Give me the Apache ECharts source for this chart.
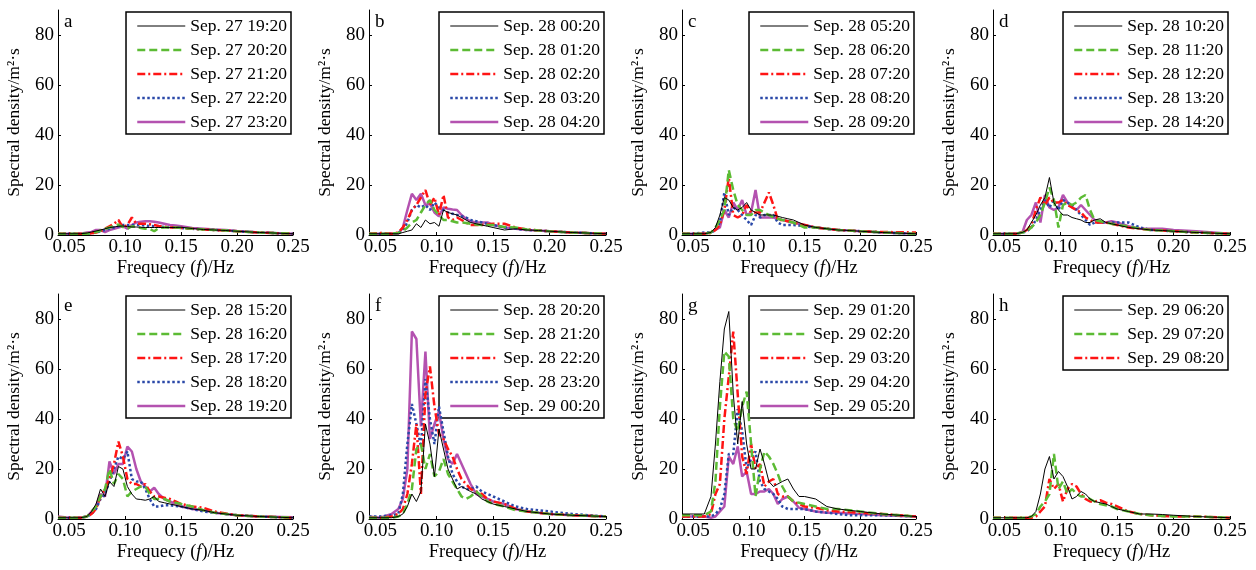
<!DOCTYPE html>
<html>
<head>
<meta charset="utf-8">
<script src="https://cdn.jsdelivr.net/npm/echarts@6/dist/echarts.min.js"></script>
<style>html,body{margin:0;padding:0;background:#fff}#c{width:1256px;height:570px}</style>
</head>
<body>
<div id="c"></div>
<script>
// Frequency grid (Hz)
const freq = [0.04,0.05,0.06,0.066,0.07,0.074,0.078,0.082,0.086,0.09,0.094,0.098,0.102,0.106,0.11,0.114,0.118,0.122,0.126,0.13,0.135,0.14,0.145,0.15,0.16,0.17,0.18,0.19,0.2,0.22,0.25];
const xTicks = [0.05,0.10,0.15,0.20,0.25];
const yTicks = [0,20,40,60,80];
const panelLetters = ['a','b','c','d','e','f','g','h'];

const namesA = ['Sep. 27 19:20','Sep. 27 20:20','Sep. 27 21:20','Sep. 27 22:20','Sep. 27 23:20'];
const dataA = [
  [0.5,0.5,0.5,0.8,1.2,1.6,2,2.5,3,3.2,3.5,3.6,3.4,3.2,3.2,3.1,3,3,3,3,3,3,3,3.1,2.6,2.2,2,1.8,1.5,1,0.5],
  [0.5,0.5,0.5,0.5,0.8,1.2,1.8,2.5,3,3.5,4.2,3.2,2.5,3.5,3.2,2.8,2.5,2.4,1.5,2.8,3,3,3,2.8,2.5,2.2,2,1.8,1.5,1,0.5],
  [0.5,0.5,0.5,0.5,0.7,1,1.5,2.5,3.5,4.5,6,3,4,7,4.5,4.5,4.5,4.3,4,3.6,3.3,3,3,2.8,2.5,2.2,2,1.8,1.5,1,0.5],
  [0.5,0.5,0.5,0.5,0.7,1,1.5,2,2.5,3,3.5,4,4,4,4,4,3.8,3.6,3.5,3.4,3.2,3,3,2.8,2.5,2.2,2,1.8,1.5,1,0.5],
  [0.5,0.5,0.5,1,1.2,2,2,1.2,2,2.5,3,3.5,2.5,4,5,5.3,5.5,5.5,5.3,5,4.5,4,3.8,3.5,2.8,2.5,2.2,2,1.6,1,0.5]
];
const namesB = ['Sep. 28 00:20','Sep. 28 01:20','Sep. 28 02:20','Sep. 28 03:20','Sep. 28 04:20'];
const dataB = [
  [0.5,0.5,0.5,0.5,1,1.5,2,4.5,3,6,4.5,5,3.5,10,9,8.5,8,7,6,5,4.5,4,3.5,3,2,2.5,2,1.8,1.5,1,0.5],
  [0.5,0.5,0.5,0.8,1.5,3,5,6,9,12,14,10,8,6,6,5.5,5,5,4.8,4.5,4.2,4,4,4,3.2,3,2.2,1.8,1.5,1,0.5],
  [0.5,0.8,0.5,1,3,6,10,12,15,18,12,15,8,16,7,6,7,6,5,4,4,4,4.2,4.5,4.5,3,2.2,1.8,1.5,1,0.5],
  [0.5,0.5,0.5,0.8,2,5,10,12,11,12,10,13,11,10,9,8.5,8,7.5,7,6,5.5,5,4.5,4,3,2.5,2,1.8,1.5,1,0.5],
  [0.5,0.5,0.5,0.5,3,10,16.5,14,16.5,12,12.5,9,7.5,11,10.5,10.2,10,8,6.5,5.5,5,5,5,4,3,2.5,2,1.8,1.5,1,0.5]
];
const namesC = ['Sep. 28 05:20','Sep. 28 06:20','Sep. 28 07:20','Sep. 28 08:20','Sep. 28 09:20'];
const dataC = [
  [0.5,0.5,0.5,1,3,8,15,14,11,10,11,13,10,9,8,8,8,8,7.5,7,6.5,6,5,4,3,2.5,2,1.8,1.5,1,0.5],
  [0.5,0.5,0.5,1,3,6,10,26,18,12,10,8,8,10,10,9,8,7,6.5,6,5.5,5,4,3,3,2.5,2,1.8,1.5,1,0.5],
  [0.5,0.5,0.5,0.8,2,4,10,23,8,7,8,12,9,9,9,13,17,12,6,6,5.5,5,4.5,4,3,2.5,2,1.8,1.5,1.2,1],
  [0.5,0.5,1,1,2,5,17,8,11,10,8,6,4,8,7,8,8,8,5,4,4,4,3.8,3.5,3,2.5,2,1.8,1.5,1,0.5],
  [0.5,0.5,0.5,1,2,3,10,7,13,10,14,8,9,18,7,7,7,7,6.5,6,5.5,5,4.5,4,3,2.5,2,1.8,1.5,1,0.5]
];
const namesD = ['Sep. 28 10:20','Sep. 28 11:20','Sep. 28 12:20','Sep. 28 13:20','Sep. 28 14:20'];
const dataD = [
  [0.5,0.5,0.5,1,2,5,8,12,15,23,13,10,8,8,7,6.5,6,5,5,6,6.5,5,4.5,4,3,2.5,2,1.8,1.5,1,0.5],
  [0.5,0.5,0.5,1,1.5,3,5,8,13,19,14,3,12,13,12,13,15,16,10,6,5.5,5,4.5,4,3.5,2.5,2,1.8,1.5,1,0.5],
  [0.5,0.5,0.5,1,2,4,10,15,12,15,13,13,14,12,11,10,9,7,6,5,5,5,4.5,4,3,2.5,2,1.8,1.5,1,0.5],
  [0.5,0.5,0.5,1,1.5,3,6,10,14,11,14,10,14,13,12,10,8,6,4,5,5,5,5,5,5,3,2,1.8,1.5,1,0.5],
  [0.5,0.5,0.5,1,6,8,13,5,16,11,10,11,16,13,11,10,12,10,8,6,5,5,5.5,5,3.5,2.5,2.5,2.5,2,1.5,0.5]
];
const namesE = ['Sep. 28 15:20','Sep. 28 16:20','Sep. 28 17:20','Sep. 28 18:20','Sep. 28 19:20'];
const dataE = [
  [0.5,0.5,0.5,1,3,6,12,9,15,13,21,20,13,10,8,7.8,7.5,8,9,7,6.5,6,5.5,5,4,3.5,2.5,2,1.5,1,0.5],
  [0.5,0.5,0.5,1,3,5,9,12,20,14,18,16,9,11,12,13,13,10,8,8,8,7,6.5,6,5,3.5,2.5,2,1.5,1,0.5],
  [0.5,0.5,0.5,1,2,4,9,12,16,22,31,25,16,14,14,13,14,11,9,9,8.5,8,7,6,5,4.5,3,2.2,1.5,1,0.5],
  [0.5,0.5,0.5,1,2,4,8,10,15,20,25,24,27,16,15,15,12,8,5,5,5.5,5.5,5.2,5,4,3,2.5,2,1.5,1,0.5],
  [1,0.5,0.5,1,3,5,10,9,23,18,22,22,29,27,20,15,13,11,12.5,10,8,7,6,5,4,3.5,2.5,2,1.5,1,0.7]
];
const namesF = ['Sep. 28 20:20','Sep. 28 21:20','Sep. 28 22:20','Sep. 28 23:20','Sep. 29 00:20'];
const dataF = [
  [0.5,0.5,0.5,1,2,5,10,7,11,38,30,17,36,28,20,16,12,13,12,11,10,8,7,6,5,4,3,2.5,2,1.5,1],
  [0.5,0.5,0.5,1,2,6,12,28,30,20,26,17,19,24,18,15,12,9,8,9,11,9,7,6,5,3.5,3,2.5,2,1.5,1],
  [0.5,0.5,1,2,4,10,22,38,10,50,61,45,34,32,28,25,20,16,14,12,11,10,8,7,6,4,3,2.5,2,1.5,1],
  [1,1,1.5,2,10,30,46,38,29,56,40,30,45,35,25,18,15,13,12,12,13,11,10,9,7,5,4,3.5,3,2,1],
  [1,0.5,2,4,8,20,75,72,37,67,32,38,43,32,24,22,26,22,18,14,10,9,8,7,6,4,3,2.5,2,1.5,1]
];
const namesG = ['Sep. 29 01:20','Sep. 29 02:20','Sep. 29 03:20','Sep. 29 04:20','Sep. 29 05:20'];
const dataG = [
  [2,2,2,9,30,55,76,83,50,30,47,30,20,20,28,22,15,13,14,15,16,12,9,9,8,5,4,3.5,3,2,1],
  [1.5,1.5,1.5,3,15,45,67,65,40,35,45,51,30,9,20,27,25,22,18,13,9,7,6.5,6,5,4,4,3.5,3,2,1],
  [1,1,1,2,10,14,40,57,75,50,25,18,30,20,22,13,15,16,10,9,9,7,6,5,4.5,3.5,3,2.8,2.5,2,1],
  [1,1,1,1,2,4,10,26,26,44,35,20,24,27,15,12,11,10,8,5,4,4,4,4,3,2.5,2,1.5,1.5,1.5,1],
  [1,1,1,0.5,1,3,5,25,22,29,17,19,10,10,11,11,12,10,6,8,9,7,4.5,4,3,2.5,2.5,2.2,2,1.5,1]
];
const namesH = ['Sep. 29 06:20','Sep. 29 07:20','Sep. 29 08:20'];
const dataH = [
  [0.5,0.5,0.5,0.5,0.5,1,3,10,20,25,16,19,17,13,8,9,11,10,8,7,6.5,6,5,4,3,2,2,1.8,1.5,1,0.5],
  [0.5,0.5,0.5,0.5,0.5,1,2,5,7,10,26,12,15,10,12,10,9,9,8,7,6,5.5,5,4,3,2,1.5,1.2,1,1,0.5],
  [0.5,0.5,0.5,0.5,0.5,0.5,1,3,5,16,12,14,7,12,14,13,10,8,7,7,7.5,6.5,6,5,3,2,1.5,1.2,1,1,0.5]
];

const panelNames = [namesA,namesB,namesC,namesD,namesE,namesF,namesG,namesH];
const panelData = [dataA,dataB,dataC,dataD,dataE,dataF,dataG,dataH];

// styles
const FONT = "'Liberation Serif','Times New Roman',serif";
const styles = [
  {color:'#000000', width:1, type:'solid'},
  {color:'#5cbb34', width:2.5, type:[8,4]},
  {color:'#ff1414', width:2.5, type:[8,3,2,3]},
  {color:'#2a48a8', width:2.5, type:[2.5,2.5]},
  {color:'#b452b0', width:2.5, type:'solid'}
];
const W = 1256;
const lefts = [58, 369, 682, 993];
const widths = [235, 237, 234, 237];
const tops = [10, 294];
const H = 225;

const grid=[], xAxis=[], yAxis=[], series=[], legend=[], graphic=[];
for (let p=0;p<8;p++){
  const row = p>>2, col = p%4;
  const L = lefts[col], Wd = widths[col], T = tops[row];
  grid.push({left:L, top:T, width:Wd, height:H, containLabel:false});
  xAxis.push({
    gridIndex:p, type:'value', min:0.04, max:0.25,
    name:'{n|Frequecy (}{i|f}{n|)/Hz}', nameLocation:'middle', nameGap:24,
    nameTextStyle:{rich:{n:{fontFamily:FONT,fontSize:18.5,color:'#000'},i:{fontFamily:FONT,fontSize:18.5,fontStyle:'italic',color:'#000'}}, verticalAlign:'top'},
    axisLine:{show:true,onZero:false,lineStyle:{color:'#000',width:1}},
    axisTick:{show:true,inside:true,length:3,customValues:xTicks,lineStyle:{color:'#000'}},
    axisLabel:{customValues:xTicks,formatter:v=>v.toFixed(2),color:'#000',fontFamily:FONT,fontSize:19,margin:3},
    splitLine:{show:false}
  });
  yAxis.push({
    gridIndex:p, type:'value', min:0, max:90,
    name:'Spectral density/m²·s', nameLocation:'middle', nameGap:35,
    nameTextStyle:{fontFamily:FONT,fontSize:17.5,color:'#000'},
    axisLine:{show:true,onZero:false,lineStyle:{color:'#000',width:1}},
    axisTick:{show:true,inside:true,length:3,customValues:yTicks,lineStyle:{color:'#000'}},
    axisLabel:{customValues:yTicks,color:'#000',fontFamily:FONT,fontSize:19,margin:4},
    splitLine:{show:false}
  });
  const names = panelNames[p], data = panelData[p];
  names.forEach((nm,k)=>{
    series.push({
      type:'line', name:nm, xAxisIndex:p, yAxisIndex:p,
      data: freq.map((f,i)=>[f,data[k][i]]),
      showSymbol:false, symbol:'none', smooth:false,
      lineStyle:{color:styles[k].color,width:styles[k].width,type:styles[k].type},
      itemStyle:{color:styles[k].color},
      z: 10-k
    });
  });
  legend.push({
    show:true, orient:'vertical', right: W-(L+Wd)+2, top:T+2,
    data:names.map((nm,k)=>({name:nm, lineStyle:{width:styles[k].width, type:styles[k].type, color:styles[k].color}})),
    itemWidth:48, itemHeight:14, itemGap:6,
    padding:[5,4,3,10], borderColor:'#000', borderWidth:1.5, backgroundColor:'#fff',
    itemStyle:{opacity:0},
    textStyle:{fontFamily:FONT,fontSize:17.5,color:'#000'}
  });
  graphic.push({type:'text', left:L+6, top:T+3, style:{text:panelLetters[p], font:"19px 'Liberation Serif'", fill:'#000'}});
}

const chart = echarts.init(document.getElementById('c'), null, {renderer:'canvas'});
chart.setOption({animation:false, backgroundColor:'#fff', grid, xAxis, yAxis, series, legend, graphic});
</script>
</body>
</html>
